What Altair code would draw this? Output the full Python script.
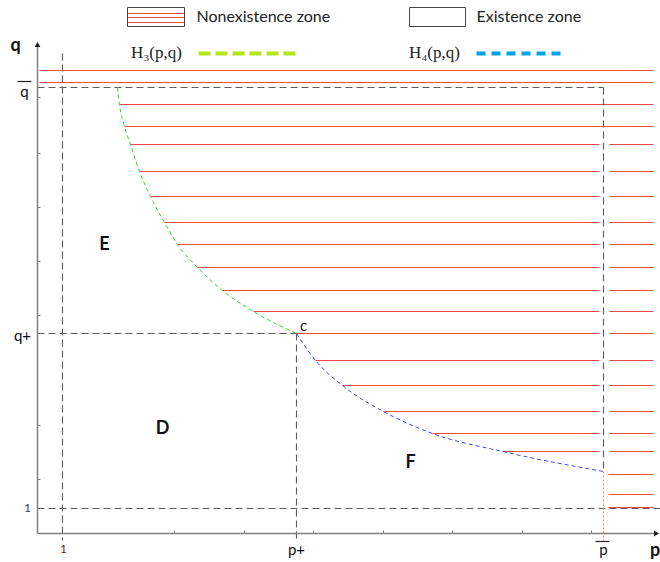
import altair as alt
import pandas as pd

# ---- key positions (chart units: origin at axis corner) ----
P_ONE, P_PLUS, P_BAR = 2.5, 25.9, 56.6
Q_ONE, Q_PLUS, Q_BAR = 2.5, 20.0, 44.6

# H3 boundary curve (green)
h3_p = [8.0, 8.2, 8.7, 9.3, 10.2, 11.3, 12.7, 14.0, 16.0, 18.5, 21.6, 25.9]
h3_q = [44.6, 42.9, 40.7, 38.9, 36.2, 33.7, 31.1, 28.9, 26.6, 24.3, 22.2, 20.0]
# H4 boundary curve (blue)
h4_p = [25.9, 27.8, 30.5, 34.6, 39.5, 46.5, 56.6]
h4_q = [20.0, 17.3, 14.8, 12.2, 10.0, 8.2, 6.2]

# hatch lines of the nonexistence zone
hatch_q = [42.9, 40.7, 38.9, 36.2, 33.7, 31.1, 28.9, 26.6, 24.3, 22.2, 20.0, 17.3, 14.8, 12.2, 10.0, 8.2]
hatch_start = [8.2, 8.7, 9.3, 10.2, 11.3, 12.7, 14.0, 16.0, 18.5, 21.6, 25.9, 27.8, 30.5, 34.6, 39.5, 46.5]
top_q = [46.3, 45.1]
right_only_q = [5.9, 3.9, 2.6]
HATCH_END, RIGHT_START, RIGHT_END, INNER_END = 61.6, 57.2, 61.6, 56.2

x_ticks = [13.7, 20.7, 27.6, 34.6, 41.5, 48.5, 55.4]
y_ticks = [43.6, 38.0, 32.6, 27.2, 21.8, 10.8, 5.4]

XS = alt.Scale(domain=[-3.75, 62.25], nice=False, zero=False)
YS = alt.Scale(domain=[-2.85, 53.35], nice=False, zero=False)


def X(f):
    return alt.X(f, type="quantitative", scale=XS, axis=None)


def Y(f):
    return alt.Y(f, type="quantitative", scale=YS, axis=None)


def segs(rows, **mk):
    df = pd.DataFrame(rows, columns=["p", "p2", "q", "q2"])
    return alt.Chart(df).mark_rule(**mk).encode(
        x=X("p"), x2=alt.X2("p2"), y=Y("q"), y2=alt.Y2("q2"))


# red hatch segments
red_rows = []
for q in top_q:
    red_rows.append((0.2, HATCH_END, q, q))
for i, (q, s) in enumerate(zip(hatch_q, hatch_start)):
    if i < 2:
        red_rows.append((s, HATCH_END, q, q))
    else:
        red_rows.append((s, INNER_END, q, q))
        red_rows.append((RIGHT_START, RIGHT_END, q, q))
for q in right_only_q:
    red_rows.append((RIGHT_START - 0.1, RIGHT_END, q, q))
red = segs(red_rows, color="#ef4a4a", strokeWidth=1.1)

# gray dashed guide lines
guides = segs([
    (P_ONE, P_ONE, 48.0, -0.7),
    (P_PLUS, P_PLUS, Q_PLUS, -0.7),
    (P_BAR, P_BAR, Q_BAR, 6.2),
    (0, 62.3, Q_ONE, Q_ONE),
    (0, P_PLUS, Q_PLUS, Q_PLUS),
    (0, P_BAR, Q_BAR, Q_BAR),
], color="#5a5a5a", strokeWidth=1.1, strokeDash=[7, 4])
pbar_low = segs([(P_BAR, P_BAR, 6.2, -0.7)], color="#e0957a", strokeWidth=1.1, strokeDash=[2, 2])

# axes
axes = segs([(0, 0, 0, 48.8), (0, 61.8, 0, 0)], color="#808080", strokeWidth=1.5)
ticks = segs([(p, p, 0, 0.3) for p in x_ticks] + [(0, 0.3, q, q) for q in y_ticks],
             color="#808080", strokeWidth=1)
arrows = alt.Chart(pd.DataFrame({"p": [0, 61.9], "q": [48.9, 0], "s": ["triangle-up", "triangle-right"]})).mark_point(
    filled=True, color="#222222", size=35, opacity=1).encode(
    x=X("p"), y=Y("q"), shape=alt.Shape("s:N", scale=None))


# boundary curves
def curve(ps, qs, color):
    df = pd.DataFrame({"p": ps, "q": qs, "o": range(len(ps))})
    return alt.Chart(df).mark_line(color=color, strokeWidth=1, strokeDash=[4, 3], interpolate="monotone").encode(
        x=X("p"), y=Y("q"), order="o:Q")


h3 = curve(h3_p, h3_q, "#2fd82f")
h4 = curve(h4_p, h4_q, "#3f4ff0")

# legend
boxes = alt.Chart(pd.DataFrame({"p": [9.0, 37.2], "p2": [14.7, 42.8], "q": [52.6, 52.6], "q2": [50.7, 50.7]})).mark_rect(
    fill="white", stroke="#444444", strokeWidth=1).encode(x=X("p"), x2=alt.X2("p2"), y=Y("q"), y2=alt.Y2("q2"))
box_lines = segs([(9.05, 14.65, q, q) for q in [52.0, 51.6, 51.1]], color="#ef4a4a", strokeWidth=1.1)
leg_dash_g = segs([(16.1, 25.9, 48.0, 48.0)], color="#b5e61d", strokeWidth=4, strokeDash=[12, 5])
leg_dash_b = segs([(43.9, 52.9, 48.0, 48.0)], color="#00a2e8", strokeWidth=4, strokeDash=[9, 6])

# overlines for q-bar and p-bar
overlines = segs([(-2.0, -0.6, 45.2, 45.2), (55.8, 57.2, -0.8, -0.8)], color="#222222", strokeWidth=1.2)


def texts(labels, ps, qs, **mk):
    df = pd.DataFrame({"t": labels, "p": ps, "q": qs})
    return alt.Chart(df).mark_text(baseline="middle", **mk).encode(x=X("p"), y=Y("q"), text="t:N")


bold_t = texts(["q", "E", "D", "F", "p"], [-2.2, 6.7, 12.5, 37.3, 61.75], [48.8, 28.9, 10.5, 7.1, -1.7],
               font="Lato", fontWeight="bold", fontSize=18, color="#111111")
norm_t = texts(["q", "q+", "p+", "p", "c"], [-1.3, -1.5, 25.9, 56.6, 26.6], [44.2, 19.8, -1.6, -1.6, 20.8],
               font="Lato", fontSize=15, color="#111111")
leg_t = texts(["Nonexistence zone", "Existence zone"], [15.9, 43.9], [51.7, 51.7],
              font="Lato", fontSize=16, color="#222222", align="left")
one_l = texts(["1"], [-1.0], [2.6], font="Lato", fontSize=12, color="#1f3d7a")
one_b = texts(["1"], [2.6], [-1.5], font="Lato", fontSize=12, color="#6b1f1f")
serif_t = texts(["H\u2083(p,q)", "H\u2084(p,q)"], [11.9, 39.7], [48.1, 48.1],
                font="Liberation Serif", fontSize=17, color="#222222")

chart = alt.layer(
    red, guides, pbar_low, axes, ticks, h3, h4, arrows,
    boxes, box_lines, leg_dash_g, leg_dash_b, overlines,
    bold_t, norm_t, leg_t, one_l, one_b, serif_t,
).properties(
    width=660, height=562, padding=0, autosize=alt.AutoSizeParams(type="none")
).configure_view(stroke=None)

chart.save("out.html", embed_options={"renderer": "svg", "actions": False})
